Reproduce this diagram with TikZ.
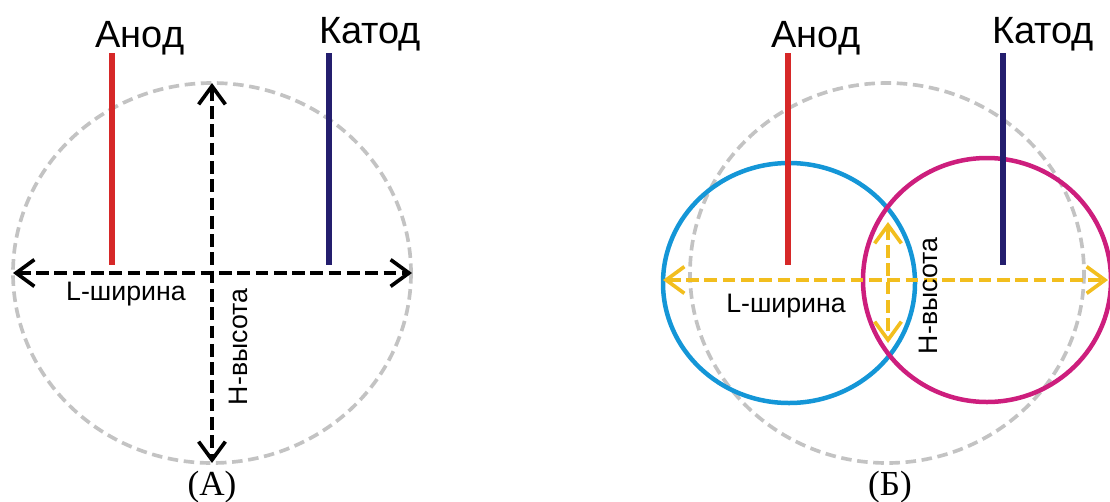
\documentclass[tikz,border=0pt]{standalone}
\usepackage{fontspec}
\setmainfont{Liberation Serif}
\setsansfont{Liberation Sans}
\usetikzlibrary{arrows.meta}

\definecolor{anodered}{RGB}{214,40,40}
\definecolor{cathodeblue}{RGB}{36,30,110}
\definecolor{zonegray}{RGB}{195,195,195}
\definecolor{ringblue}{RGB}{20,150,215}
\definecolor{ringmagenta}{RGB}{205,30,125}
\definecolor{dimyellow}{RGB}{242,190,30}

\begin{document}
\begin{tikzpicture}[x=0.025cm,y=-0.025cm]

    \tikzstyle{electrode}+=[
        line width = 4.2pt
    ]
    \tikzstyle{zone}+=[
        draw=zonegray,
        line width = 2.6pt,
        dash pattern=on 7.5pt off 4pt
    ]
    \tikzstyle{ring}+=[
        line width = 3.2pt
    ]
    \tikzstyle{dimarrow}+=[
        {Straight Barb[length=13pt,width=19pt,line width=2.6pt]}-{Straight Barb[length=13pt,width=19pt,line width=2.6pt]},
        line width = 2.4pt,
        dash pattern=on 9pt off 4pt
    ]
    \tikzstyle{title}+=[
        font=\sffamily\fontsize{27}{30}\selectfont,
        anchor=base,
        inner sep=0pt
    ]
    \tikzstyle{dimlabel}+=[
        font=\sffamily\fontsize{19}{21}\selectfont,
        inner sep=0pt
    ]
    \tikzstyle{caption}+=[
        font=\fontsize{25}{27}\selectfont,
        anchor=base,
        inner sep=0pt
    ]

    \useasboundingbox (0,0) rectangle (1110,501);

    % ----------------------------------------------------------------------------
    \coordinate(zoneA) at (212,273);
    \coordinate(zoneB) at (887,273);
    \coordinate(anodeAtop) at (112,53);
    \coordinate(anodeAbot) at (112,265);
    \coordinate(cathodeAtop) at (329,53);
    \coordinate(cathodeAbot) at (329,265);
    \coordinate(anodeBtop) at (788,53);
    \coordinate(anodeBbot) at (788,265);
    \coordinate(cathodeBtop) at (1003,53);
    \coordinate(cathodeBbot) at (1003,265);

    \coordinate(widthAleft) at (13,273);
    \coordinate(widthAright) at (412,273);
    \coordinate(heightAtop) at (212,83);
    \coordinate(heightAbot) at (212,463);
    \coordinate(widthBleft) at (663,280);
    \coordinate(widthBright) at (1108,280);
    \coordinate(heightBtop) at (888,222);
    \coordinate(heightBbot) at (888,343);

    % ----------------------------------------------------------------------------
    \draw[zone] (zoneA) ellipse [x radius=199, y radius=190];
    \draw[zone] (zoneB) ellipse [x radius=197, y radius=190];
    \draw[ring,draw=ringblue] (789,283) ellipse [x radius=126, y radius=120];
    \draw[ring,draw=ringmagenta] (987,280) ellipse [x radius=124, y radius=122];

    % ----------------------------------------------------------------------------
    \draw[dimarrow] (widthAleft) -- (widthAright);
    \draw[dimarrow] (heightAtop) -- (heightAbot);
    \draw[dimarrow,draw=dimyellow] (widthBleft) -- (widthBright);
    \draw[dimarrow,draw=dimyellow] (heightBtop) -- (heightBbot);

    % ----------------------------------------------------------------------------
    \draw[electrode,anodered] (anodeAtop) -- (anodeAbot);
    \draw[electrode,cathodeblue] (cathodeAtop) -- (cathodeAbot);
    \draw[electrode,anodered] (anodeBtop) -- (anodeBbot);
    \draw[electrode,cathodeblue] (cathodeBtop) -- (cathodeBbot);

    % ----------------------------------------------------------------------------
    \node[title] (anodeA) at (140,47) {Анод};
    \node[title] (cathodeA) at (370,43) {Катод};
    \node[title] (anodeB) at (816,47) {Анод};
    \node[title] (cathodeB) at (1043,43) {Катод};
    \node[dimlabel,anchor=base] (widthA) at (126,300) {L-ширина};
    \node[dimlabel,rotate=90] (heightA) at (238,347) {H-высота};
    \node[dimlabel,anchor=base] (widthB) at (786,312) {L-ширина};
    \node[dimlabel,rotate=90] (heightB) at (928,296) {H-высота};
    \node[caption] (capA) at (212,495) {(А)};
    \node[caption] (capB) at (890,495) {(Б)};

\end{tikzpicture}
\end{document}
